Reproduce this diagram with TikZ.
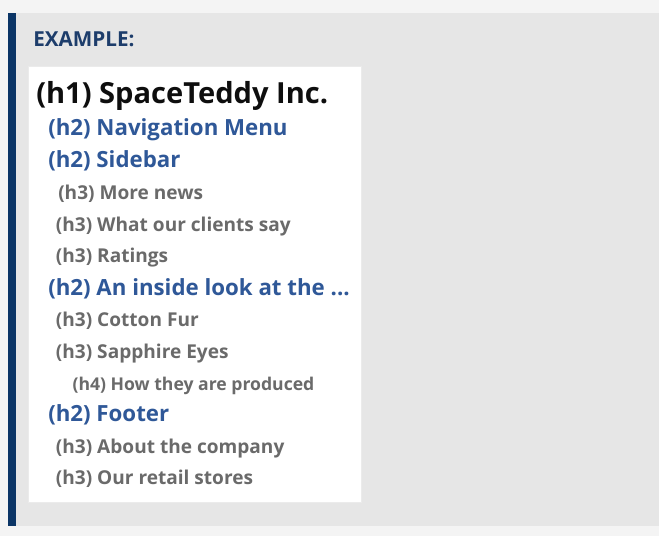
\documentclass[tikz,border=0pt]{standalone}
\usepackage{fontspec}
\setmainfont{Open Sans}
\definecolor{outerbg}{HTML}{F4F4F4}
\definecolor{panelbg}{HTML}{E6E6E6}
\definecolor{barblue}{HTML}{0B3566}
\definecolor{navy}{HTML}{1D3D6B}
\definecolor{htwo}{HTML}{2F5898}
\definecolor{hthree}{HTML}{6A6A6A}
\definecolor{hone}{HTML}{0E0E0E}
\tikzset{
  txt/.style={anchor=base west, inner sep=0pt, font=\bfseries},
  hone/.style={txt, text=hone, font=\fontsize{21.8pt}{26pt}\bfseries},
  htwo/.style={txt, text=htwo, font=\fontsize{16.7pt}{20pt}\bfseries},
  hthree/.style={txt, text=hthree, font=\fontsize{14.3pt}{17pt}\bfseries},
  hfour/.style={txt, text=hthree, font=\fontsize{13.2pt}{16pt}\bfseries},
  lbl/.style={txt, text=navy, font=\fontsize{15.5pt}{19pt}\bfseries},
}
\begin{document}
\begin{tikzpicture}[x=0.75pt,y=-0.75pt]
\useasboundingbox (0,0) rectangle (659,536);
\fill[outerbg] (0,0) rectangle (659,536);
\fill[panelbg] (8,13) rectangle (659,526);
\fill[barblue] (8,13) rectangle (16,526);
\filldraw[fill=white, draw=black!8, line width=0.4pt] (28.5,66) rectangle (361,502);
\node[lbl] (ex) at (33,46) {EXAMPLE:};
\node[hone] (h1) at (36,103.5) {(h1) SpaceTeddy Inc.};
\node[htwo] (nav) at (48,135.7) {(h2) Navigation Menu};
\node[htwo] (side) at (48,167.5) {(h2) Sidebar};
\node[hthree] (news) at (58,199.3) {(h3) More news};
\node[hthree] (clients) at (55.7,231) {(h3) What our clients say};
\node[hthree] (ratings) at (55.7,262.7) {(h3) Ratings};
\node[htwo] (inside) at (48,295) {(h2) An inside look at the ...};
\node[hthree] (cotton) at (55.7,326.5) {(h3) Cotton Fur};
\node[hthree] (sapphire) at (55.7,358.3) {(h3) Sapphire Eyes};
\node[hfour] (produced) at (72.3,390) {(h4) How they are produced};
\node[htwo] (footer) at (48,421.7) {(h2) Footer};
\node[hthree] (about) at (55.7,453.3) {(h3) About the company};
\node[hthree] (retail) at (55.7,484.5) {(h3) Our retail stores};
\end{tikzpicture}
\end{document}
